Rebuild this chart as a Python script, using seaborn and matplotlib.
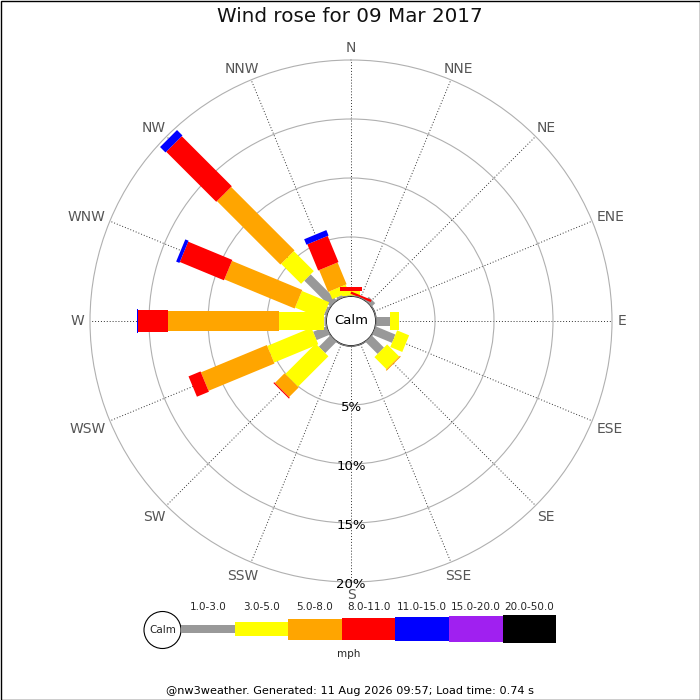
import numpy as np
import matplotlib
matplotlib.use("Agg")
import matplotlib.pyplot as plt
import seaborn as sns
from matplotlib.patches import Circle, Rectangle

sns.set_theme(style="white")
plt.rcParams['font.family'] = ['DejaVu Sans']

# wind directions and speed bins (mph)
directions = ['N', 'NNE', 'NE', 'ENE', 'E', 'ESE', 'SE', 'SSE',
              'S', 'SSW', 'SW', 'WSW', 'W', 'WNW', 'NW', 'NNW']
speed_bins = ['1.0-3.0', '3.0-5.0', '5.0-8.0', '8.0-11.0',
              '11.0-15.0', '15.0-20.0', '20.0-50.0']

# % of time per direction for each speed bin
pct_1_3 = [0.0, 0.0, 0.4, 0.0, 1.2, 1.8, 1.45, 0.0, 0.0, 0.0, 1.35, 1.2, 0.15, 0.2, 3.1, 0.2]
pct_3_5 = [0.45, 0.0, 0.0, 0.0, 0.75, 1.1, 1.45, 0.0, 0.0, 0.0, 3.65, 4.05, 3.85, 2.5, 2.4, 0.7]
pct_5_8 = [0.0, 0.0, 0.0, 0.0, 0.0, 0.0, 0.1, 0.0, 0.0, 0.0, 1.15, 6.05, 9.4, 6.45, 7.6, 2.0]
pct_8_11 = [0.3, 0.2, 0.0, 0.0, 0.0, 0.0, 0.0, 0.0, 0.0, 0.0, 0.1, 1.1, 2.5, 4.05, 6.0, 2.4]
pct_11_15 = [0.0, 0.0, 0.0, 0.0, 0.0, 0.0, 0.0, 0.0, 0.0, 0.0, 0.0, 0.0, 0.15, 0.3, 0.65, 0.5]
pct_15_20 = [0.0] * 16
pct_20_50 = [0.0] * 16

ring_ticks = [5, 10, 15, 20]

series = [pct_1_3, pct_3_5, pct_5_8, pct_8_11, pct_11_15, pct_15_20, pct_20_50]
colors = sns.color_palette(['#999999', '#ffff00', '#ffa500', '#ff0000',
                            '#0000ff', '#a020f0', '#000000'])
bar_px = [9, 18, 20, 22, 24, 26, 28]      # bar thickness on the rose
leg_px = [8, 14, 21, 22, 24, 26, 28]      # box heights in the key

fig = plt.figure(figsize=(7, 7), dpi=100)
fig.patch.set_facecolor('white')

# overlay in pixel coords for key, title, footer, border
ov = fig.add_axes([0, 0, 1, 1])
ov.set_xlim(0, 700)
ov.set_ylim(700, 0)
ov.axis('off')

# polar rose: centre (351,321), outer radius 261px, calm hole 25px
cx, cy, R, r_hole = 351, 321, 261, 25
ax = fig.add_axes([(cx - R) / 700, (700 - cy - R) / 700, 2 * R / 700, 2 * R / 700],
                  projection='polar')
ax.set_theta_zero_location('N')
ax.set_theta_direction(-1)
rmax = 20
ax.set_ylim(0, rmax)
ax.set_rorigin(-r_hole * rmax / (R - r_hole))
ax.set_facecolor('white')

theta = np.deg2rad(np.arange(16) * 22.5)
ax.set_xticks(theta)
ax.set_xticklabels([])
ax.set_yticks(ring_ticks[:-1])
ax.set_yticklabels([])
ax.xaxis.grid(True, color='#333333', linestyle=(0, (1, 2)), linewidth=0.7)
ax.yaxis.grid(True, color='#b0b0b0', linestyle='-', linewidth=0.8)
ax.spines['polar'].set_color('#b0b0b0')
ax.spines['polar'].set_linewidth(0.8)

# stacked bars as thick butt-capped lines
base = np.zeros(16)
for vals, col, px in zip(series, colors, bar_px):
    vals = np.array(vals)
    for t, b, v in zip(theta, base, vals):
        if v > 0:
            ax.plot([t, t], [b, b + v], color=col, lw=px * 0.72,
                    solid_capstyle='butt', zorder=3)
    base = base + vals

# calm circle
ax.add_patch(Circle((0.5, 0.5), r_hole / (2 * R), transform=ax.transAxes,
                    facecolor='white', edgecolor='#999999', lw=0.8, zorder=5))
ax.text(0.5, 0.5, 'Calm', transform=ax.transAxes, ha='center', va='center',
        fontsize=9.5, color='black', zorder=6)

# direction labels, pushed sideways by half their width
renderer = fig.canvas.get_renderer()
for t, d in zip(theta, directions):
    lab = ov.text(cx, cy, d, ha='center', va='center', fontsize=10, color='#555555')
    w = lab.get_window_extent(renderer).width
    lx = cx + (267 + w / 2) * np.sin(t)
    ly = cy - (267 + 5.5) * np.cos(t)
    if -0.99 < np.cos(t) < -0.1:
        ly += 3.5
    elif np.cos(t) <= -0.99:
        ly += 1.5
    lab.set_position((lx, ly))

for rt in ring_ticks:
    ax.text(np.pi, rt + 0.2, f'{rt}%', ha='center', va='center',
            fontsize=9.5, color='black', clip_on=False, zorder=4)

# title / footer / border
ov.text(350, 16.5, 'Wind rose for 09 Mar 2017', ha='center', va='center',
        fontsize=14.3, color='#111111')
ov.text(350, 691, '@nw3weather. Generated: 11 Aug 2026 09:57; Load time: 0.74 s',
        ha='center', va='center', fontsize=8.15, color='black')
ov.add_patch(Rectangle((0.5, 0.5), 699, 699, fill=False, ec='black', lw=1))

# key
key_x0, key_w, key_y = 181, 53.6, 629
ov.add_patch(Circle((162.5, 630), 18.5, facecolor='white', edgecolor='black', lw=0.8))
ov.text(162.5, 630, 'Calm', ha='center', va='center', fontsize=7.5)
for i, (lab, col, h) in enumerate(zip(speed_bins, colors, leg_px)):
    x = key_x0 + i * key_w
    ov.add_patch(Rectangle((x, key_y - h / 2), key_w, h, facecolor=col,
                           edgecolor='none'))
    ov.text(x + key_w / 2, 607, lab, ha='center', va='center', fontsize=7.5)
ov.text(349, 654, 'mph', ha='center', va='center', fontsize=7.5)

fig.savefig('out.png', dpi=100)
